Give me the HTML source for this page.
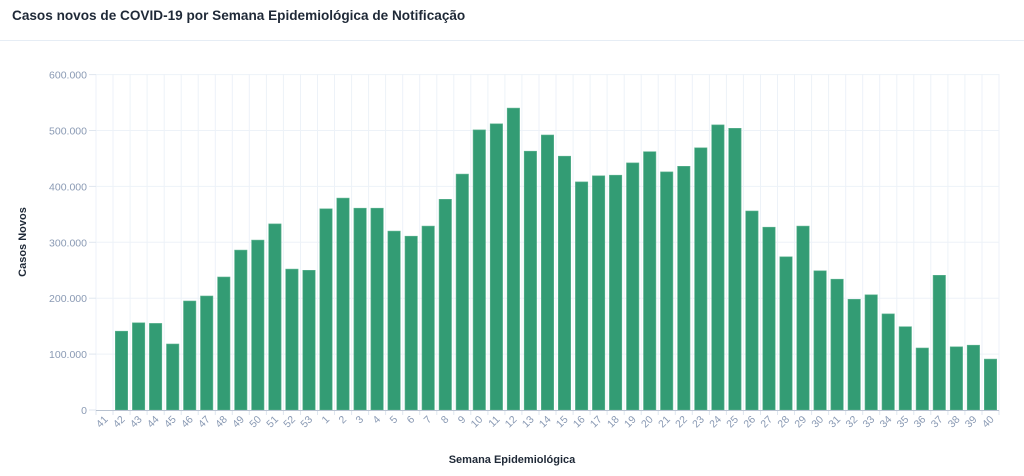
<!DOCTYPE html>
<html><head><meta charset="utf-8"><style>
html,body{margin:0;padding:0;background:#fff;width:1024px;height:476px;overflow:hidden}
svg{display:block;font-family:"Liberation Sans",sans-serif}
</style></head><body>
<svg id="c" width="1024" height="476" xmlns="http://www.w3.org/2000/svg">
<text x="12" y="20" font-size="13.6" font-weight="bold" fill="#1f2937">Casos novos de COVID-19 por Semana Epidemiológica de Notificação</text>
<line x1="0" y1="40.5" x2="1024" y2="40.5" stroke="#e6edf5" stroke-width="1"/>
<text transform="translate(26,242) rotate(-90)" text-anchor="middle" font-size="11" font-weight="bold" fill="#1f2937">Casos Novos</text>
<text x="512" y="463" text-anchor="middle" font-size="11" font-weight="bold" fill="#1f2937">Semana Epidemiológica</text>
<g id="g"></g>
</svg>
<script>
var vals=[0,141,156,155,118,195,204,238,286,304,333,252,250,360,379,361,361,320,311,329,377,422,501,512,540,463,492,454,408,419,420,442,462,426,436,469,510,504,356,327,274,329,249,234,198,206,172,149,111,241,113,116,91];
var labels=[];for(var i=41;i<=53;i++)labels.push(i);for(var i=1;i<=40;i++)labels.push(i);
var x0=96,x1=999,y0=410,ppk=0.559,w=(x1-x0)/53,s='';
for(var i=0;i<=53;i++){var x=(x0+i*w).toFixed(1);s+='<line x1="'+x+'" y1="74" x2="'+x+'" y2="410" stroke="#edf2f8"/>';}
for(var k=0;k<=6;k++){var y=(y0-k*100*ppk).toFixed(1);
 if(k>0)s+='<line x1="'+x0+'" y1="'+y+'" x2="'+x1+'" y2="'+y+'" stroke="#edf2f8"/>';
 s+='<line x1="89" y1="'+y+'" x2="'+x0+'" y2="'+y+'" stroke="#dfe6ef"/>';
 s+='<text x="87" y="'+(+y+4)+'" text-anchor="end" font-size="10.5" fill="#8a9ab4">'+(k==0?'0':k*100+'.000')+'</text>';}
for(var i=0;i<53;i++){var h=vals[i]*ppk,bx=x0+i*w+2.3;
 if(h>0)s+='<rect x="'+bx.toFixed(1)+'" y="'+(y0-h).toFixed(1)+'" width="'+(w-4.6).toFixed(1)+'" height="'+h.toFixed(1)+'" fill="#339c74" stroke="#5fb592" stroke-width="0.6"/>';
 var lx=x0+i*w+w/2+2,ly=418;
 s+='<line x1="'+(x0+i*w).toFixed(1)+'" y1="410" x2="'+(x0+i*w).toFixed(1)+'" y2="415" stroke="#dfe6ef"/>';
 s+='<text transform="translate('+lx.toFixed(1)+','+ly+') rotate(-45)" text-anchor="end" dominant-baseline="middle" font-size="10.5" fill="#8a9ab4">'+labels[i]+'</text>';}
s+='<line x1="'+(x1)+'" y1="410" x2="'+x1+'" y2="415" stroke="#dfe6ef"/>';
s+='<line x1="'+x0+'" y1="410.5" x2="'+x1+'" y2="410.5" stroke="#b8c2d0"/>';
document.getElementById('g').innerHTML=s;
</script>
</body></html>
